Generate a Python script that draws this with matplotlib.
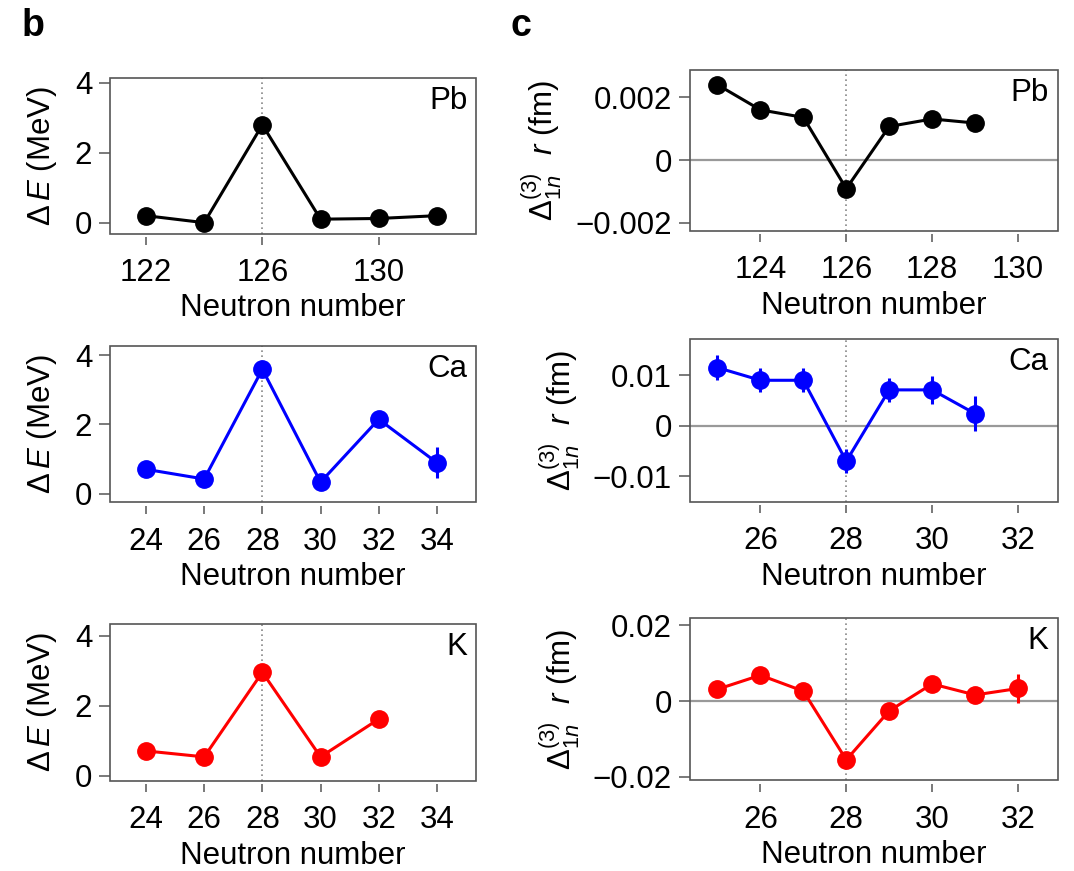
import matplotlib
matplotlib.use("Agg")
import matplotlib.pyplot as plt
from matplotlib.patches import Rectangle
import matplotlib.transforms as mtransforms

plt.rcParams['font.family'] = ['Liberation Sans', 'DejaVu Sans']
plt.rcParams['mathtext.fontset'] = 'custom'
plt.rcParams['mathtext.rm'] = 'Liberation Sans'
plt.rcParams['mathtext.it'] = 'Liberation Sans:italic'
plt.rcParams['mathtext.bf'] = 'Liberation Sans:bold'

# ---------------- data ----------------
# panel b : energy gap
pb_b_N = [122, 124, 126, 128, 130, 132]
pb_b_dE = [0.20, 0.00, 2.80, 0.10, 0.12, 0.20]
ca_b_N = [24, 26, 28, 30, 32, 34]
ca_b_dE = [0.71, 0.43, 3.59, 0.34, 2.15, 0.90]
ca_b_err = [0, 0, 0, 0, 0, 0.45]
k_b_N = [24, 26, 28, 30, 32]
k_b_dE = [0.71, 0.54, 2.96, 0.54, 1.62]

# panel c : three-point radius difference
pb_c_N = [123, 124, 125, 126, 127, 128, 129]
pb_c_r = [0.00240, 0.00160, 0.00136, -0.00091, 0.00107, 0.00131, 0.00118]
ca_c_N = [25, 26, 27, 28, 29, 30, 31]
ca_c_r = [0.0115, 0.0090, 0.0090, -0.0070, 0.0071, 0.0071, 0.0024]
ca_c_err = [0.0025, 0.0024, 0.0024, 0.0024, 0.0024, 0.0027, 0.0035]
k_c_N = [25, 26, 27, 28, 29, 30, 31, 32]
k_c_r = [0.0031, 0.0068, 0.0026, -0.0155, -0.0026, 0.0045, 0.0016, 0.0033]
k_c_err = [0, 0, 0, 0, 0, 0, 0, 0.0039]

elements = ['Pb', 'Ca', 'K']
colors = ['black', '#0000ff', '#ff0000']
magic = [126, 28, 28]

b_xticks = [[122, 126, 130], [24, 26, 28, 30, 32, 34], [24, 26, 28, 30, 32, 34]]
b_yticks = [0, 2, 4]
c_xticks = [[124, 126, 128, 130], [26, 28, 30, 32], [26, 28, 30, 32]]
c_yticks = [[-0.002, 0, 0.002], [-0.01, 0, 0.01], [-0.02, 0, 0.02]]
c_yticklabels = [['\u22120.002', '0', '0.002'], ['\u22120.01', '0', '0.01'],
                 ['\u22120.02', '0', '0.02']]

# ---------------- layout ----------------
W, H = 1074, 871
fig = plt.figure(figsize=(W / 100, H / 100), dpi=100)

def rect(l, r, t, b):
    return [l / W, 1 - b / H, (r - l) / W, (b - t) / H]

b_pos = [rect(110.2, 476.2, 78, 233.5), rect(110.2, 476.2, 346, 502.3),
         rect(110.2, 476.2, 624, 781)]
c_pos = [rect(690, 1057.5, 70, 231), rect(690, 1057.5, 339.3, 501.7),
         rect(690, 1057.5, 618.3, 780.3)]
b_xlim = [(120.77, 133.35), (22.77, 35.35), (22.77, 35.35)]
b_ylim = [(-0.31, 4.14), (-0.24, 4.26), (-0.15, 4.34)]
c_xlim = [(122.36, 130.92), (24.36, 32.92), (24.36, 32.92)]
c_ylim = [(-0.00226, 0.00287), (-0.0150, 0.0171), (-0.0209, 0.0218)]

FS = 22.5
frame_col = '#555555'

def style(ax):
    for s in ax.spines.values():
        s.set_visible(False)
    ax.spines['bottom'].set_position(('outward', 2.5))
    ax.add_patch(Rectangle((0, 0), 1, 1, transform=ax.transAxes, fill=False,
                           edgecolor=frame_col, lw=1.2, clip_on=False, zorder=5))
    ax.tick_params(axis='y', length=8, width=1.1, color=frame_col, pad=5,
                   labelsize=FS)
    ax.tick_params(axis='x', length=6, width=1.1, color=frame_col, pad=9,
                   labelsize=FS)
    ax.set_xlabel('Neutron number', fontsize=FS, labelpad=4)

def tag(ax, s):
    off = mtransforms.offset_copy(ax.transAxes, fig=fig, x=-9, y=-8, units='dots')
    ax.text(1, 1, s, transform=off, ha='right', va='top', fontsize=FS)

b_data = [(pb_b_N, pb_b_dE, None), (ca_b_N, ca_b_dE, ca_b_err), (k_b_N, k_b_dE, None)]
c_data = [(pb_c_N, pb_c_r, None), (ca_c_N, ca_c_r, ca_c_err), (k_c_N, k_c_r, k_c_err)]

for i in range(3):
    # panel b
    ax = fig.add_axes(b_pos[i])
    style(ax)
    x, y, e = b_data[i]
    ax.axvline(magic[i], color='#888888', ls=(0, (1, 2)), lw=1.2, zorder=1)
    ax.errorbar(x, y, yerr=e, color=colors[i], marker='o', ms=12.5, lw=2.2,
                elinewidth=2.2, capsize=0, zorder=3)
    ax.set_xlim(*b_xlim[i])
    ax.set_ylim(*b_ylim[i])
    ax.set_xticks(b_xticks[i])
    ax.set_yticks(b_yticks)
    ax.set_ylabel(r'$\Delta\,E$ (MeV)', fontsize=FS, labelpad=11)
    tag(ax, elements[i])

    # panel c
    ax = fig.add_axes(c_pos[i])
    style(ax)
    x, y, e = c_data[i]
    ax.axvline(magic[i], color='#888888', ls=(0, (1, 2)), lw=1.2, zorder=1)
    ax.axhline(0, color='#999999', lw=1.6, zorder=1)
    ax.errorbar(x, y, yerr=e, color=colors[i], marker='o', ms=12.5, lw=2.2,
                elinewidth=2.2, capsize=0, zorder=3)
    ax.set_xlim(*c_xlim[i])
    ax.set_ylim(*c_ylim[i])
    ax.set_xticks(c_xticks[i])
    ax.set_yticks(c_yticks[i])
    ax.set_yticklabels(c_yticklabels[i])
    ax.set_ylabel(r'$\Delta^{(3)}_{1n}\ \ r$ (fm)', fontsize=FS, labelpad=8)
    tag(ax, elements[i])

fig.text(22 / W, 1 - 36 / H, 'b', fontsize=27, fontweight='bold', ha='left',
         va='baseline')
fig.text(510 / W, 1 - 36 / H, 'c', fontsize=27, fontweight='bold', ha='left',
         va='baseline')

fig.savefig('out.png', dpi=100)
